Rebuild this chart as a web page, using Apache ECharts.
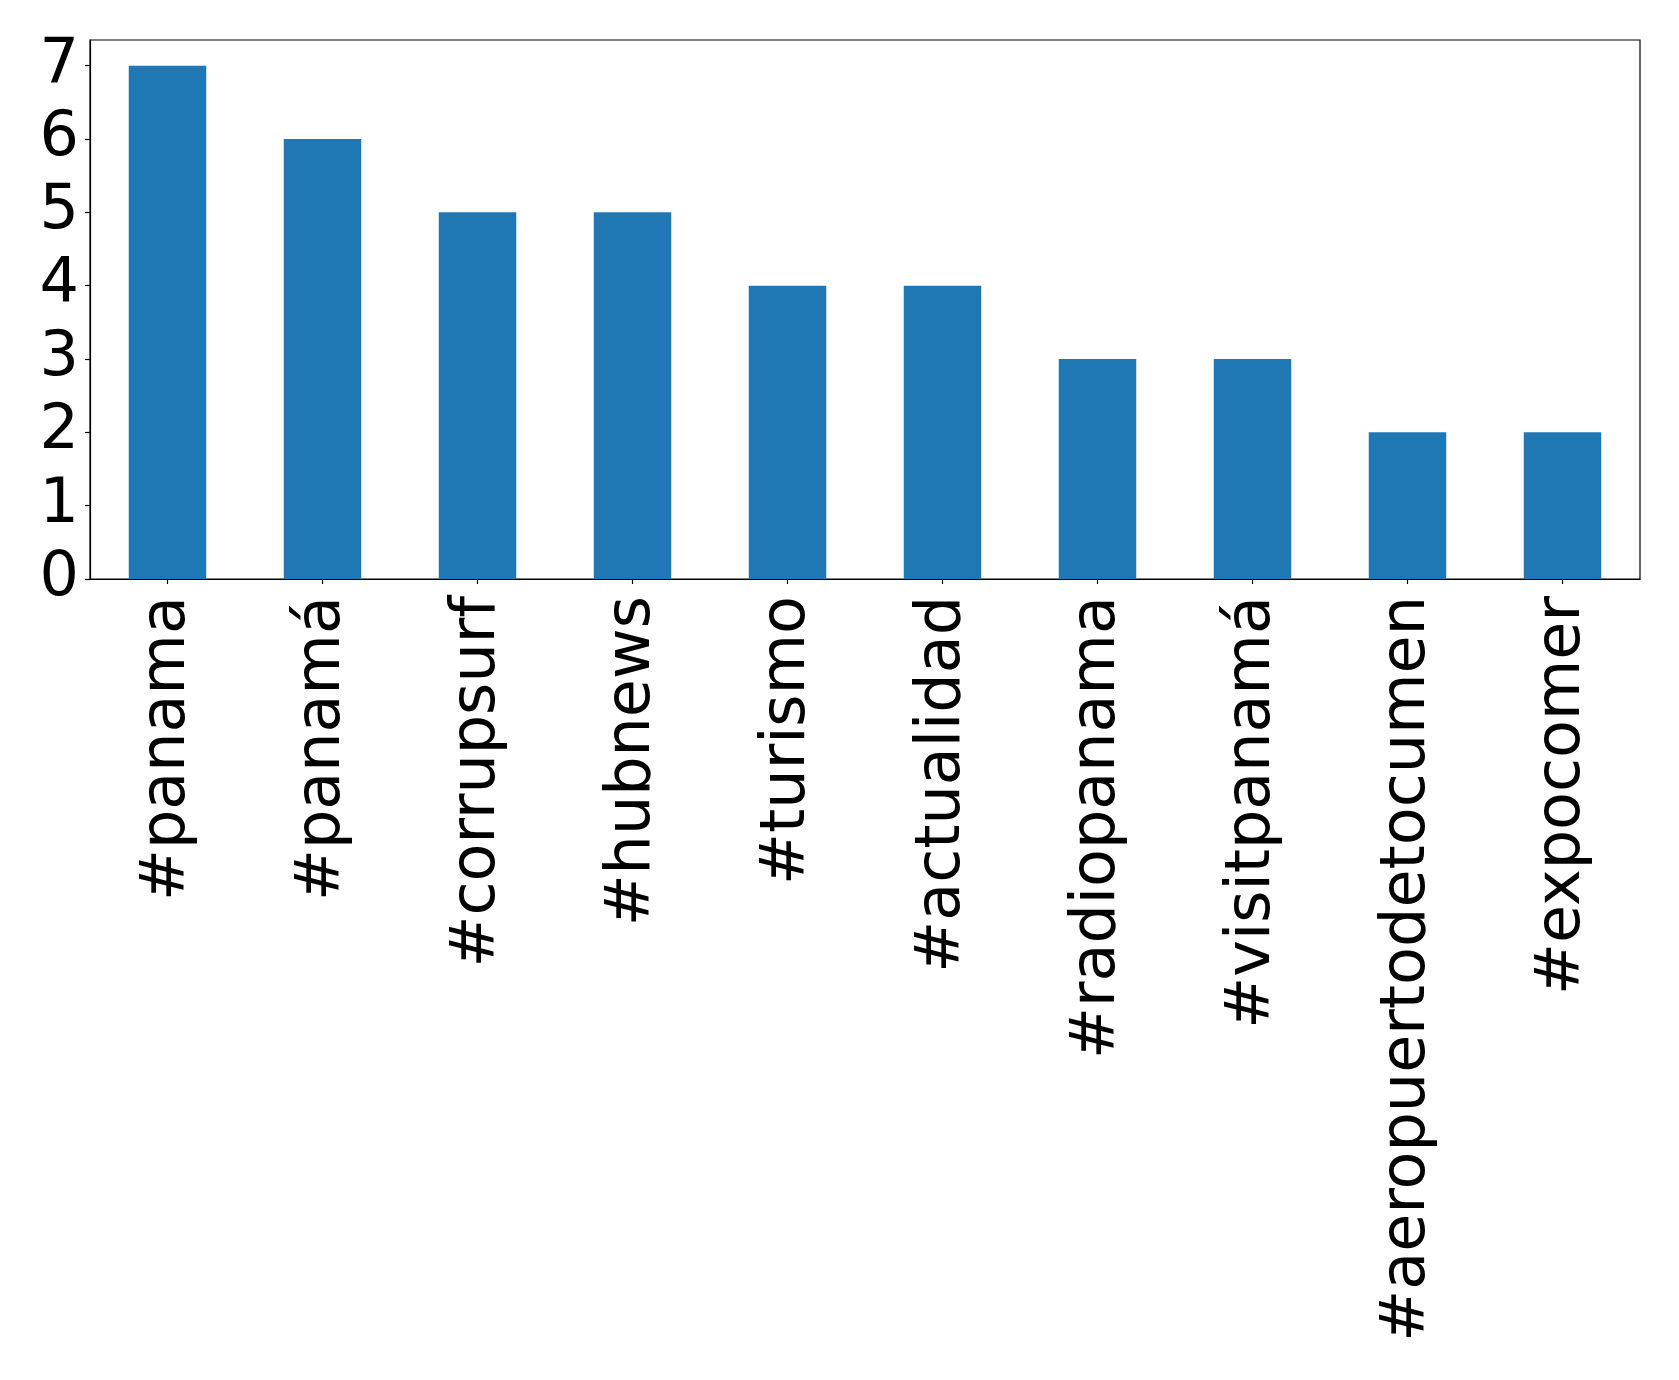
<!DOCTYPE html>
<html>
<head>
<meta charset="utf-8">
<script src="https://cdn.jsdelivr.net/npm/echarts@6/dist/echarts.min.js"></script>
<style>
html,body{margin:0;padding:0;background:#fff;}
#chart{width:1679px;height:1380px;}
</style>
</head>
<body>
<div id="chart"></div>
<script>
const categories = ['#panama', '#panamá', '#corrupsurf', '#hubnews', '#turismo', '#actualidad', '#radiopanama', '#visitpanamá', '#aeropuertodetocumen', '#expocomer'];
const counts = [7, 6, 5, 5, 4, 4, 3, 3, 2, 2];
const yTicks = [0, 1, 2, 3, 4, 5, 6, 7];

const chart = echarts.init(document.getElementById('chart'), null, {renderer: 'canvas'});
chart.setOption({
  animation: false,
  backgroundColor: '#ffffff',
  grid: {
    left: 90, right: 39, top: 40, bottom: 801,
    show: true, borderColor: '#000000', borderWidth: 1.2, backgroundColor: 'transparent'
  },
  xAxis: {
    type: 'category',
    data: categories,
    boundaryGap: true,
    axisLine: {show: true, lineStyle: {color: '#000', width: 1.2}},
    axisTick: {show: true, alignWithLabel: true, length: 5, lineStyle: {color: '#000', width: 1.2}},
    axisLabel: {
      rotate: 90, interval: 0, margin: 17,
      fontFamily: 'DejaVu Sans', fontSize: 62, color: '#000'
    },
    splitLine: {show: false}
  },
  yAxis: {
    type: 'value',
    min: 0, max: 7.35, interval: 1,
    axisLine: {show: true, lineStyle: {color: '#000', width: 1.2}},
    axisTick: {show: true, length: 5, customValues: yTicks, lineStyle: {color: '#000', width: 1.2}},
    axisLabel: {
      customValues: yTicks, margin: 11,
      fontFamily: 'DejaVu Sans', fontSize: 62, color: '#000'
    },
    splitLine: {show: false}
  },
  series: [{
    type: 'bar',
    data: counts,
    barWidth: '50%',
    itemStyle: {color: '#1f77b4'}
  }]
});
</script>
</body>
</html>
